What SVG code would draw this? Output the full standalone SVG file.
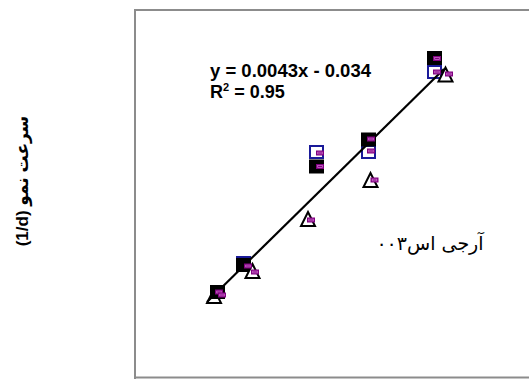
<svg xmlns="http://www.w3.org/2000/svg" xmlns:xlink="http://www.w3.org/1999/xlink" width="529" height="379" viewBox="0 0 529 379">
<style>
.frame{fill:none;stroke:#8c8c8c;stroke-width:2}
.eq{font-family:"Liberation Sans",Arial,sans-serif;font-weight:bold;font-size:18px;fill:#000}
.lbl{font-family:"DejaVu Serif","DejaVu Sans",serif;font-size:19px;fill:#000}
.ylab{font-family:"Liberation Sans","DejaVu Sans",sans-serif;font-weight:bold;font-size:17px;fill:#000}
.trend{stroke:#000;stroke-width:2.2;fill:none}
</style>
<defs>
<rect id="sqK" x="0" y="0" width="15" height="14" fill="#000"/>
<rect id="sqB" x="1" y="1" width="13" height="12" fill="#fff" stroke="#1a1a99" stroke-width="2"/>
<polygon id="tri" points="0,-14 7,0 -7,0" fill="#fff" stroke="#000" stroke-width="2" stroke-linejoin="miter"/>
<g id="pm"><rect x="-4" y="-2.5" width="8" height="5" fill="#800080"/><rect x="-2.3" y="-0.9" width="4.6" height="1.8" fill="none" stroke="#d27ad2" stroke-width="0.7"/></g>
</defs>
<rect width="529" height="379" fill="#fff"/>
<g id="frame"><path class="frame" d="M135,379 V10 H529 M135,377.5 H529"/></g>
<g id="series">
<use xlink:href="#tri" x="214" y="303"/>
<use xlink:href="#sqK" x="210" y="285"/>
<use xlink:href="#sqB" x="236" y="256"/>
<use xlink:href="#sqK" x="236" y="258"/>
<use xlink:href="#tri" x="252.5" y="278"/>
<use xlink:href="#sqB" x="309" y="145"/>
<use xlink:href="#sqK" x="309" y="159.5"/>
<use xlink:href="#tri" x="308" y="226"/>
<use xlink:href="#sqB" x="361" y="145"/>
<use xlink:href="#sqK" x="361" y="132.5"/>
<use xlink:href="#tri" x="370.5" y="187"/>
<use xlink:href="#sqB" x="427" y="65"/>
<use xlink:href="#sqK" x="427" y="51"/>
<use xlink:href="#tri" x="445.5" y="81.5"/>
</g>
<g id="connectors"><line class="trend" x1="207" y1="302" x2="444" y2="69"/></g>
<g id="purple">
<use xlink:href="#pm" x="219" y="292"/>
<use xlink:href="#pm" x="222" y="295"/>
<use xlink:href="#pm" x="248" y="266"/>
<use xlink:href="#pm" x="255" y="272"/>
<use xlink:href="#pm" x="320" y="153"/>
<use xlink:href="#pm" x="320" y="166.5"/>
<use xlink:href="#pm" x="311" y="220"/>
<use xlink:href="#pm" x="371" y="139"/>
<use xlink:href="#pm" x="371" y="151"/>
<use xlink:href="#pm" x="374.5" y="180"/>
<use xlink:href="#pm" x="437" y="58.5"/>
<use xlink:href="#pm" x="437" y="72"/>
<use xlink:href="#pm" x="449" y="74"/>
</g>
<g id="equation">
<text class="eq" x="210" y="76.5" textLength="161" lengthAdjust="spacingAndGlyphs">y = 0.0043x - 0.034</text>
<text class="eq" x="210" y="97.5">R<tspan font-size="11" dy="-7">2</tspan><tspan dy="7"> = 0.95</tspan></text>
</g>
<g id="series-label"><text class="lbl" x="430" y="250" text-anchor="middle">آرجی اس۰۰۳</text></g>
<g id="y-axis-label"><text class="ylab" transform="translate(28,181) rotate(-90)" text-anchor="middle">(1/d) سرعت نمو</text></g>
</svg>
